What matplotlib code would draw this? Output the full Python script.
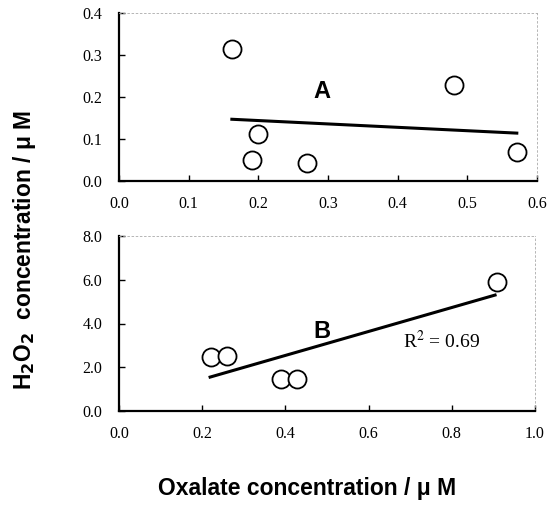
import matplotlib
matplotlib.use("Agg")
import matplotlib.pyplot as plt

# Panel A
a_x = [0.162, 0.191, 0.200, 0.270, 0.481, 0.571]
a_y = [0.314, 0.050, 0.112, 0.042, 0.229, 0.069]
a_fit_x = [0.162, 0.571]
a_fit_y = [0.147, 0.114]

# Panel B
b_x = [0.221, 0.260, 0.390, 0.428, 0.909]
b_y = [2.45, 2.52, 1.48, 1.48, 5.89]
b_fit_x = [0.219, 0.904]
b_fit_y = [1.55, 5.30]

SERIF = "Liberation Serif"
SANS = "Liberation Sans"

fig = plt.figure(figsize=(5.55, 5.15), dpi=100)
W, H = 555, 515
ax_a = fig.add_axes([119 / W, 1 - 181 / H, 418 / W, 168 / H])
ax_b = fig.add_axes([119 / W, 1 - 411 / H, 416 / W, 175 / H])


def style(ax, xticks, yticks):
    ax.set_xticks(xticks)
    ax.set_xticklabels(["%.1f" % t for t in xticks], fontfamily=SERIF, fontsize=11.5)
    ax.set_yticks(yticks)
    ax.set_yticklabels(["%.1f" % t for t in yticks], fontfamily=SERIF, fontsize=11.5)
    ax.tick_params(direction="in", length=4, width=1.0, colors="black")
    ax.tick_params(axis="x", pad=11)
    ax.tick_params(axis="y", pad=12)
    for side in ("left", "bottom"):
        ax.spines[side].set_linewidth(1.6)
    for side in ("top", "right"):
        ax.spines[side].set_linewidth(0.6)
        ax.spines[side].set_linestyle((0, (2, 3)))
        ax.spines[side].set_color("#aaaaaa")


ax_a.plot(a_fit_x, a_fit_y, color="black", lw=2.2, zorder=2)
ax_a.plot(a_x, a_y, "o", ms=13, mfc="white", mec="black", mew=1.3, zorder=3)
ax_a.set_xlim(0, 0.6)
ax_a.set_ylim(0, 0.4)
style(ax_a, [0, 0.1, 0.2, 0.3, 0.4, 0.5, 0.6], [0, 0.1, 0.2, 0.3, 0.4])
ax_a.text(0.291, 0.212, "A", fontfamily=SANS, fontweight="bold", fontsize=17,
          ha="center", va="center")

ax_b.plot(b_fit_x, b_fit_y, color="black", lw=2.2, zorder=2)
ax_b.plot(b_x, b_y, "o", ms=13, mfc="white", mec="black", mew=1.3, zorder=3)
ax_b.set_xlim(0, 1.0)
ax_b.set_ylim(0, 8.0)
style(ax_b, [0, 0.2, 0.4, 0.6, 0.8, 1.0], [0, 2, 4, 6, 8])
ax_b.text(0.488, 3.62, "B", fontfamily=SANS, fontweight="bold", fontsize=17,
          ha="center", va="center")
ax_b.text(0.683, 3.2, r"R$^2$ = 0.69", fontfamily=SERIF, fontsize=14,
          ha="left", va="center", math_fontfamily="stix")

fig.text(25 / W, 1 - 250 / H, r"H$_\mathbf{2}$O$_\mathbf{2}$  concentration / μ M",
         rotation=90, ha="center", va="center", fontfamily=SANS, fontweight="bold",
         fontsize=16.4, math_fontfamily="dejavusans")
fig.text(307 / W, 1 - 488 / H, "Oxalate concentration / μ M", ha="center", va="center",
         fontfamily=SANS, fontweight="bold", fontsize=16.5)

fig.savefig("out.png", dpi=100)
